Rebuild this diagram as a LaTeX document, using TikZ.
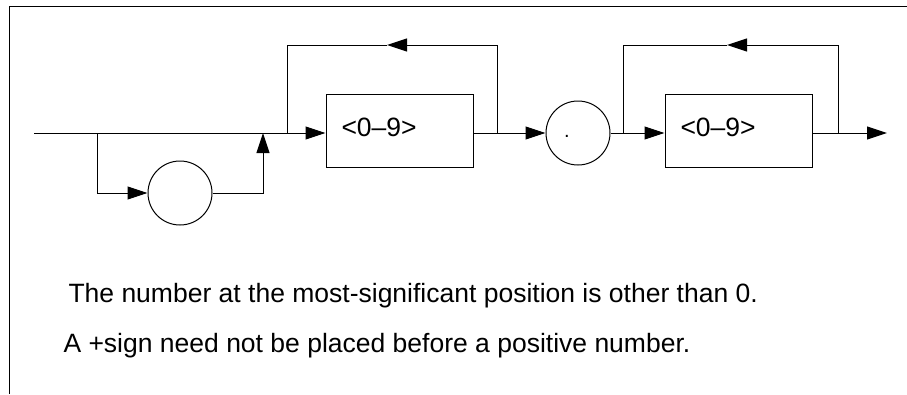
\documentclass[tikz,border=0pt]{standalone}
\usepackage{fontspec}
\setmainfont{Liberation Sans}
\usetikzlibrary{arrows.meta}
\begin{document}
\begin{tikzpicture}[x=1pt,y=-1pt, line width=1pt,
  tip/.style={-{Triangle[length=20pt,width=13pt]}},
  boxnode/.style={draw, minimum width=147pt, minimum height=73pt, inner sep=0pt},
  circnode/.style={draw, circle, minimum size=64pt, inner sep=0pt},
  lbl/.style={font=\fontsize{26.5}{30}\selectfont, inner sep=0pt, anchor=base west}]
\useasboundingbox (0,0) rectangle (907,394);
% frame
\draw (907,6) -- (9.5,6) -- (9.5,394);
% nodes
\node[boxnode] (box1) at (399.5,130.5) {};
\node[boxnode] (box2) at (738.5,130.5) {};
\node[circnode] (c1) at (180,193) {};
\node[circnode] (c2) at (578,133) {};
\node[lbl] (t1) at (341,136) {<0–9>};
\node[lbl] (t2) at (680,136) {<0–9>};
\node[lbl, font=\fontsize{20}{24}\selectfont] (dot) at (563.5,137) {.};
% coordinates
\coordinate (start) at (34,133);
\coordinate (s1) at (97,133);
\coordinate (j1) at (263,133);
\coordinate (l1) at (287,133);
\coordinate (r1) at (497,133);
\coordinate (l2) at (623,133);
\coordinate (r2) at (838,133);
\coordinate (end) at (887,133);
\coordinate (a1) at (387,45);
\coordinate (a2) at (727,45);
% connectors
\draw (start) -- (s1);
\draw[tip] (s1) |- (c1.west);
\draw[tip] (c1.east) -| (j1);
\draw[tip] (s1) -- (box1.west |- s1);
\draw[tip] (r1) |- (a1);
\draw (a1) -| (l1);
\draw[tip] (box1.east |- r1) -- (c2.west);
\draw[tip] (c2.east) -- (box2.west |- c2);
\draw[tip] (r2) |- (a2);
\draw (a2) -| (l2);
\draw[tip] (box2.east |- r2) -- (end);
% notes
\node[lbl] (n1) at (68,302) {The number at the most-significant position is other than 0.};
\node[lbl] (n2) at (63,352) {A +sign need not be placed before a positive number.};
\end{tikzpicture}
\end{document}
